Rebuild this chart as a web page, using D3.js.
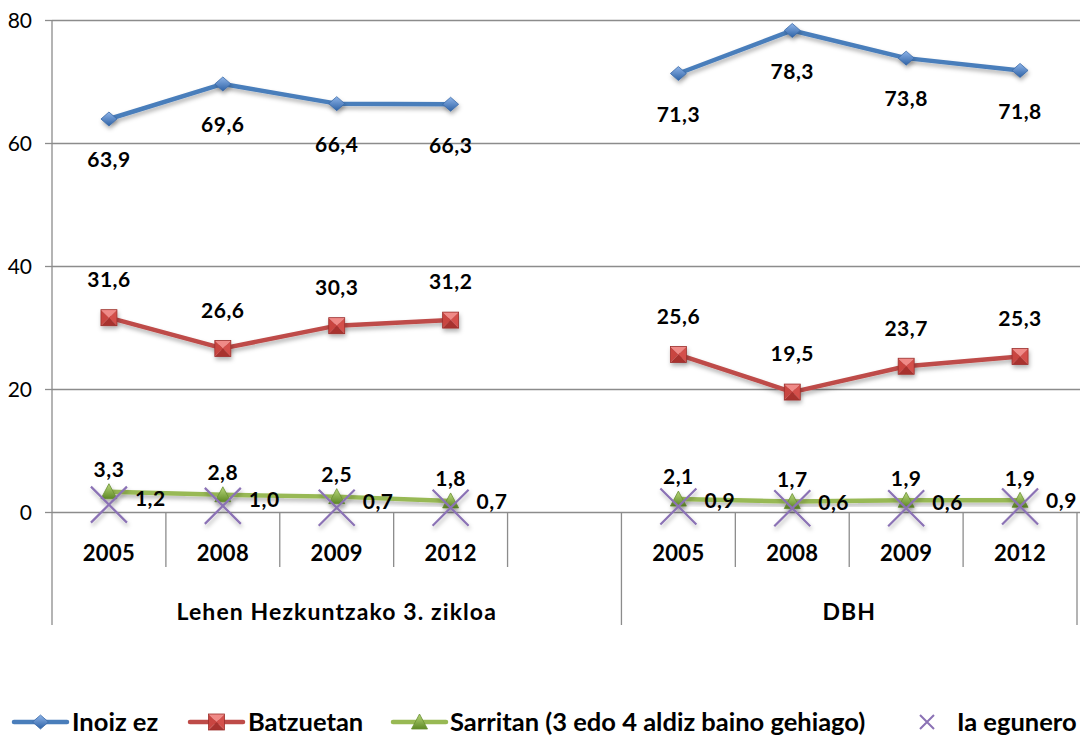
<!DOCTYPE html>
<html>
<head>
<meta charset="utf-8">
<script src="https://cdn.jsdelivr.net/npm/d3@7"></script>
<style>
  body { margin: 0; background: #fff; }
  svg { display: block; font-family: Lato, "DejaVu Sans", sans-serif; }
  .lbl { font-weight: bold; font-size: 21px; letter-spacing: 0.5px; fill: #000; }
  .cat { font-weight: bold; font-size: 22px; letter-spacing: 0.3px; fill: #000; }
  .grp { font-weight: bold; font-size: 23px; letter-spacing: 1.1px; fill: #000; }
  .leg { font-weight: bold; font-size: 25.5px; fill: #000; }
  .ytick text { font-size: 21px; fill: #000; }
</style>
</head>
<body>
<svg id="chart" width="1081" height="740"></svg>
<script>
// categories (one empty slot separates the two groups)
var years = ['2005', '2008', '2009', '2012', '', '2005', '2008', '2009', '2012'];
var groupNames = ['Lehen Hezkuntzako 3. zikloa', 'DBH'];
var groupSizes = [5, 4];
var yTicks = [0, 20, 40, 60, 80];

// series values
var inoizEz   = [63.9, 69.6, 66.4, 66.3, null, 71.3, 78.3, 73.8, 71.8];
var batzuetan = [31.6, 26.6, 30.3, 31.2, null, 25.6, 19.5, 23.7, 25.3];
var sarritan  = [3.3, 2.8, 2.5, 1.8, null, 2.1, 1.7, 1.9, 1.9];
var iaEgunero = [1.2, 1.0, 0.7, 0.7, null, 0.9, 0.6, 0.6, 0.9];

var seriesNames = ['Inoiz ez', 'Batzuetan', 'Sarritan (3 edo 4 aldiz baino gehiago)', 'Ia egunero'];

var svg = d3.select('#chart');
var plotL = 52, plotR = 1077, plotT = 20, plotB = 512;

var slots = years.map(function(d, i) { return i; });
var x = d3.scaleBand().domain(slots).range([plotL, plotR]).padding(0);
var y = d3.scaleLinear().domain([0, 80]).range([plotB, plotT]);
var cx = function(i) { return x(i) + x.bandwidth() / 2; };

// defs: gradients and shadow
var defs = svg.append('defs');
function grad(id, c1, c2) {
	var g = defs.append('linearGradient').attr('id', id)
		.attr('x1', 0).attr('y1', 0).attr('x2', 0).attr('y2', 1);
	g.append('stop').attr('offset', '0%').attr('stop-color', c1);
	g.append('stop').attr('offset', '100%').attr('stop-color', c2);
}
grad('gBlue', '#8db3e8', '#2f63a6');
grad('gGreen', '#b8d77a', '#5f8a26');
var f = defs.append('filter').attr('id', 'shadow')
	.attr('x', '-50%').attr('y', '-50%').attr('width', '200%').attr('height', '200%');
f.append('feDropShadow').attr('dx', 1).attr('dy', 3).attr('stdDeviation', 2)
	.attr('flood-color', '#000').attr('flood-opacity', 0.3);

// gridlines
svg.append('g').attr('transform', 'translate(' + plotL + ',0)')
	.call(d3.axisLeft(y).tickValues(yTicks).tickSize(-(plotR - plotL + 3)).tickFormat(''))
	.call(function(g) {
		g.select('.domain').remove();
		g.selectAll('line').attr('stroke', '#8c8c8c').attr('stroke-width', 1.3);
	});

// y axis ticks and labels
var yAxis = svg.append('g').attr('class', 'ytick').attr('transform', 'translate(' + plotL + ',0)')
	.call(d3.axisLeft(y).tickValues(yTicks).tickSize(7).tickPadding(13).tickSizeOuter(0));
yAxis.select('.domain').remove();
yAxis.selectAll('line').attr('stroke', '#8c8c8c').attr('stroke-width', 1.3);
yAxis.selectAll('text').attr('font-family', 'Lato, sans-serif').attr('dy', '0.35em');
svg.append('line').attr('x1', plotL).attr('x2', plotL).attr('y1', plotT).attr('y2', 625)
	.attr('stroke', '#8c8c8c').attr('stroke-width', 1.3);

// category axis: dividers and labels
var groupStart = 0, boundaries = [];
groupSizes.forEach(function(n, gi) {
	var x0 = x(groupStart), x1 = (groupStart + n < slots.length) ? x(groupStart + n) : plotR;
	boundaries.push(x1);
	svg.append('text').attr('class', 'grp').attr('x', (x0 + x1) / 2).attr('y', 620)
		.attr('text-anchor', 'middle').text(groupNames[gi]);
	groupStart += n;
});
slots.forEach(function(i) {
	if (i > 0 && boundaries.indexOf(x(i)) < 0) {
		svg.append('line').attr('x1', x(i)).attr('x2', x(i)).attr('y1', plotB).attr('y2', 567)
			.attr('stroke', '#8c8c8c').attr('stroke-width', 1.3);
	}
	svg.append('text').attr('class', 'cat').attr('x', cx(i)).attr('y', 561)
		.attr('text-anchor', 'middle').text(years[i]);
});
boundaries.forEach(function(bx) {
	svg.append('line').attr('x1', bx).attr('x2', bx).attr('y1', plotB).attr('y2', 625)
		.attr('stroke', '#8c8c8c').attr('stroke-width', 1.3);
});

// marker drawers
function diamond(g, px, py, s) {
	var w = 8 * s, h = 7 * s;
	g.append('path').attr('d', 'M' + (px - w) + ',' + py + 'L' + px + ',' + (py - h) + 'L' + (px + w) + ',' + py + 'L' + px + ',' + (py + h) + 'Z')
		.attr('fill', 'url(#gBlue)').attr('stroke', '#3a6aa8').attr('stroke-width', 0.8);
}
function square(g, px, py, s) {
	var h = 8 * s;
	var c = [[px - h, py - h], [px + h, py - h], [px + h, py + h], [px - h, py + h]];
	var fills = ['#f08a87', '#d4504c', '#a8322f', '#c94541'];
	for (var k = 0; k < 4; k++) {
		var a = c[k], b = c[(k + 1) % 4];
		g.append('path').attr('d', 'M' + a + 'L' + b + 'L' + px + ',' + py + 'Z').attr('fill', fills[k]);
	}
	g.append('rect').attr('x', px - h).attr('y', py - h).attr('width', 2 * h).attr('height', 2 * h)
		.attr('fill', 'none').attr('stroke', '#9c2f2c').attr('stroke-width', 0.8);
}
function triangle(g, px, py, s) {
	var w = 8 * s;
	g.append('path').attr('d', 'M' + (px - w) + ',' + (py + 7 * s) + 'L' + px + ',' + (py - 8 * s) + 'L' + (px + w) + ',' + (py + 7 * s) + 'Z')
		.attr('fill', 'url(#gGreen)').attr('stroke', '#6a8f34').attr('stroke-width', 0.8);
}
function cross(g, px, py, r, sw) {
	g.append('path').attr('d', 'M' + (px - r) + ',' + (py - r) + 'L' + (px + r) + ',' + (py + r) + 'M' + (px - r) + ',' + (py + r) + 'L' + (px + r) + ',' + (py - r))
		.attr('stroke', '#8b72b5').attr('stroke-width', sw).attr('fill', 'none');
}

var line = d3.line().defined(function(d) { return d != null; })
	.x(function(d, i) { return cx(i); }).y(function(d) { return y(d); });

var series = [
	{ values: inoizEz, color: '#4a7ebb', marker: diamond, dy: 41 },
	{ values: batzuetan, color: '#be4b48', marker: square, dy: -38 },
	{ values: sarritan, color: '#98b954', marker: triangle, dy: -22 }
];

var fmt = function(v) { return v.toFixed(1).replace('.', ','); };

series.forEach(function(s) {
	svg.append('path').datum(s.values).attr('d', line)
		.attr('fill', 'none').attr('stroke', s.color).attr('stroke-width', 4.5)
		.attr('stroke-linejoin', 'round').attr('filter', 'url(#shadow)');
	var mg = svg.append('g').attr('filter', 'url(#shadow)');
	s.values.forEach(function(v, i) { if (v != null) s.marker(mg, cx(i), y(v), 1); });
});

// purple crosses (no line), on top of the green series
var ia = svg.append('g').attr('filter', 'url(#shadow)');
iaEgunero.forEach(function(v, i) { if (v != null) cross(ia, cx(i), y(v), 18, 2.2); });

// data labels
series.forEach(function(s) {
	s.values.forEach(function(v, i) {
		if (v == null) return;
		svg.append('text').attr('class', 'lbl').attr('x', cx(i)).attr('y', y(v) + s.dy)
			.attr('dy', '0.35em').attr('text-anchor', 'middle').text(fmt(v));
	});
});
iaEgunero.forEach(function(v, i) {
	if (v == null) return;
	svg.append('text').attr('class', 'lbl').attr('x', cx(i) + 26).attr('y', y(v) - 6)
		.attr('dy', '0.35em').attr('text-anchor', 'start').text(fmt(v));
});

// legend
var ly = 722;
var legendItems = [
	{ x: 14, color: '#4a7ebb', marker: diamond, tx: 72 },
	{ x: 190, color: '#be4b48', marker: square, tx: 248 },
	{ x: 393, color: '#98b954', marker: triangle, tx: 450 },
	{ x: 927, color: null, marker: null, tx: 957 }
];
legendItems.forEach(function(it, k) {
	var lg = svg.append('g');
	if (it.color) {
		lg.append('line').attr('x1', it.x).attr('x2', it.x + 53).attr('y1', ly).attr('y2', ly)
			.attr('stroke', it.color).attr('stroke-width', 4.5).attr('stroke-linecap', 'round');
		it.marker(lg, it.x + 26.5, ly, 1);
	} else {
		cross(lg, it.x, ly, 7, 2);
	}
	lg.append('text').attr('class', 'leg').attr('x', it.tx).attr('y', ly).attr('dy', '0.35em').text(seriesNames[k]);
});
</script>
</body>
</html>
